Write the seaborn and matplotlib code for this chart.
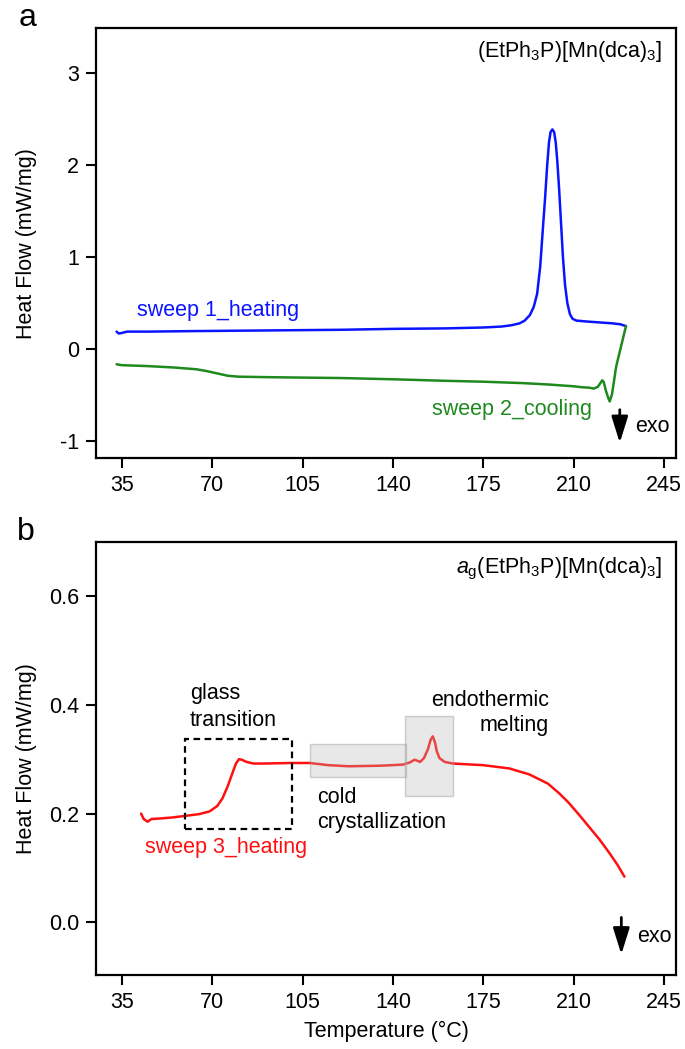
import matplotlib
matplotlib.use("Agg")
import matplotlib.pyplot as plt
from matplotlib.patches import Rectangle
import seaborn as sns
import pandas as pd

# ---- sweep 1 (heating) ----
heat1_T = [33.0, 33.8, 35.0, 37.0, 45.0, 60.0, 80.0, 100.0, 120.0, 140.0, 160.0, 175.0,
           182.0, 186.0, 189.0, 191.0, 193.0, 194.5, 195.8, 197.0, 198.0, 198.9, 199.7,
           200.4, 201.0, 201.7, 202.4, 203.0, 203.6, 204.3, 205.0, 205.8, 206.6, 207.5,
           208.5, 209.5, 211.0, 215.0, 220.0, 225.0, 228.0, 230.2]
heat1_HF = [0.19, 0.17, 0.175, 0.19, 0.19, 0.195, 0.20, 0.205, 0.21, 0.22, 0.225, 0.235,
            0.245, 0.26, 0.28, 0.31, 0.37, 0.46, 0.60, 0.90, 1.30, 1.65, 2.00,
            2.25, 2.36, 2.39, 2.36, 2.25, 2.05, 1.75, 1.40, 1.00, 0.70, 0.50,
            0.38, 0.33, 0.31, 0.30, 0.29, 0.28, 0.27, 0.25]

# ---- sweep 2 (cooling) ----
cool2_T = [230.2, 228.3, 226.4, 224.8, 223.9, 223.2, 222.4, 221.6, 221.0, 220.3, 219.3,
           217.8, 216.0, 213.0, 210.0, 200.0, 190.0, 175.0, 160.0, 142.0, 120.0, 104.0,
           90.0, 80.0, 76.0, 72.0, 68.0, 64.0, 55.0, 45.0, 35.0, 33.0]
cool2_HF = [0.25, 0.03, -0.19, -0.49, -0.57, -0.52, -0.45, -0.36, -0.34, -0.37, -0.41,
            -0.43, -0.42, -0.415, -0.405, -0.385, -0.37, -0.355, -0.345, -0.33, -0.315, -0.31,
            -0.305, -0.30, -0.29, -0.265, -0.24, -0.22, -0.20, -0.185, -0.175, -0.165]

# ---- sweep 3 (heating of the glass) ----
heat3_T = [42.5, 43.5, 45.0, 46.5, 50.0, 55.0, 60.0, 65.0, 69.0, 72.0, 74.0, 76.0, 77.9,
           79.2, 80.4, 81.5, 83.3, 86.0, 90.0, 100.0, 107.8, 115.0, 123.0, 135.0, 143.8,
           146.5, 148.4, 149.5, 150.5, 152.0, 153.5, 154.6, 155.4, 156.2, 157.0, 158.0,
           160.0, 163.2, 175.0, 185.0, 192.8, 200.0, 204.4, 208.0, 212.0, 216.0, 220.0,
           224.0, 227.0, 229.6]
heat3_HF = [0.20, 0.19, 0.185, 0.19, 0.191, 0.193, 0.196, 0.199, 0.204, 0.214, 0.228, 0.25,
            0.275, 0.292, 0.30, 0.299, 0.295, 0.292, 0.292, 0.293, 0.293, 0.289, 0.287, 0.288,
            0.290, 0.294, 0.299, 0.297, 0.295, 0.302, 0.318, 0.336, 0.342, 0.332, 0.314,
            0.302, 0.295, 0.292, 0.289, 0.283, 0.272, 0.255, 0.237, 0.22, 0.198, 0.175,
            0.152, 0.126, 0.105, 0.084]

x_ticks = [35, 70, 105, 140, 175, 210, 245]
a_yticks = [-1, 0, 1, 2, 3]
b_yticks = [0.0, 0.2, 0.4, 0.6]

# highlighted regions in panel b: (T_start, T_end, HF_low, HF_high)
glass_box = (59.4, 101.1, 0.172, 0.337)
cold_box = (107.8, 144.9, 0.268, 0.328)
melt_box = (144.8, 163.2, 0.233, 0.380)

BLUE = "#0a14ff"
GREEN = "#1e8a1e"
RED = "#ff1010"

sns.set_style("ticks")
plt.rcParams["font.family"] = ["Liberation Sans", "DejaVu Sans"]
plt.rcParams["mathtext.fontset"] = "custom"
plt.rcParams["mathtext.rm"] = "Liberation Sans"
plt.rcParams["mathtext.it"] = "Liberation Sans:italic"
plt.rcParams["axes.linewidth"] = 1.6
plt.rcParams["axes.edgecolor"] = "black"
plt.rcParams["text.color"] = "black"
plt.rcParams["axes.labelcolor"] = "black"
plt.rcParams["xtick.color"] = "black"
plt.rcParams["ytick.color"] = "black"

FS = 15.5

fig = plt.figure(figsize=(6.85, 10.49), dpi=100)
ax_a = fig.add_axes([0.140, 0.5634, 0.847, 0.4096])
ax_b = fig.add_axes([0.140, 0.0705, 0.847, 0.4131])

df1 = pd.DataFrame({"T": heat1_T, "HF": heat1_HF})
df2 = pd.DataFrame({"T": cool2_T, "HF": cool2_HF})
df3 = pd.DataFrame({"T": heat3_T, "HF": heat3_HF})

sns.lineplot(data=df1, x="T", y="HF", ax=ax_a, color=BLUE, lw=1.8, sort=False, estimator=None)
sns.lineplot(data=df2, x="T", y="HF", ax=ax_a, color=GREEN, lw=1.8, sort=False, estimator=None)
sns.lineplot(data=df3, x="T", y="HF", ax=ax_b, color=RED, lw=1.8, sort=False, estimator=None)

for ax in (ax_a, ax_b):
    ax.set_xlim(25, 249.6)
    ax.set_xticks(x_ticks)
    ax.tick_params(axis="both", direction="out", length=7.2, width=1.5,
                   labelsize=FS, pad=5, colors="black", top=False, right=False)
    for s in ax.spines.values():
        s.set_visible(True)
        s.set_linewidth(1.6)
    ax.set_ylabel("Heat Flow (mW/mg)", fontsize=FS)
    ax.yaxis.set_label_coords(-0.102, 0.5)
    ax.set_xlabel("")

# panel a
ax_a.set_ylim(-1.185, 3.49)
ax_a.set_yticks(a_yticks)
ax_a.set_yticklabels([str(v) for v in a_yticks])
ax_a.text(0.975, 0.945, r"(EtPh$_3$P)[Mn(dca)$_3$]", transform=ax_a.transAxes,
          ha="right", va="center", fontsize=FS)
ax_a.text(41, 0.42, "sweep 1_heating", color=BLUE, fontsize=FS, ha="left", va="center")
ax_a.text(155, -0.66, "sweep 2_cooling", color=GREEN, fontsize=FS, ha="left", va="center")
ax_a.annotate("", xy=(227.8, -1.02), xytext=(227.8, -0.66),
              arrowprops=dict(arrowstyle="-|>,head_width=0.25,head_length=0.8",
                              lw=2, color="black", mutation_scale=20,
                              shrinkA=0, shrinkB=0))
ax_a.text(233.8, -0.84, "exo", fontsize=FS, ha="left", va="center")

# panel b
ax_b.set_ylim(-0.097, 0.70)
ax_b.set_yticks(b_yticks)
ax_b.set_yticklabels([f"{v:.1f}" for v in b_yticks])
ax_b.set_xlabel("Temperature (°C)", fontsize=FS, labelpad=6)
ax_b.text(0.975, 0.937, r"$\mathit{a}_\mathrm{g}$(EtPh$_3$P)[Mn(dca)$_3$]",
          transform=ax_b.transAxes, ha="right", va="center", fontsize=FS)

x0, x1, y0, y1 = glass_box
ax_b.add_patch(Rectangle((x0, y0), x1 - x0, y1 - y0, fill=False, ec="black",
                         lw=1.6, ls=(0, (3, 2)), zorder=4))
for box in (cold_box, melt_box):
    x0, x1, y0, y1 = box
    ax_b.add_patch(Rectangle((x0, y0), x1 - x0, y1 - y0,
                             fc=(0.72, 0.72, 0.72, 0.32), ec=(0.6, 0.6, 0.6, 0.45),
                             lw=1.0, zorder=5))

ax_b.text(61.3, 0.420, "glass", fontsize=FS, ha="left", va="center")
ax_b.text(61.3, 0.372, "transition", fontsize=FS, ha="left", va="center")
ax_b.text(110.8, 0.229, "cold", fontsize=FS, ha="left", va="center")
ax_b.text(110.8, 0.183, "crystallization", fontsize=FS, ha="left", va="center")
ax_b.text(200.5, 0.408, "endothermic", fontsize=FS, ha="right", va="center")
ax_b.text(200.5, 0.362, "melting", fontsize=FS, ha="right", va="center")
ax_b.text(43.9, 0.138, "sweep 3_heating", color=RED, fontsize=FS, ha="left", va="center")
ax_b.annotate("", xy=(228.4, -0.059), xytext=(228.4, 0.009),
              arrowprops=dict(arrowstyle="-|>,head_width=0.25,head_length=0.8",
                              lw=2, color="black", mutation_scale=20,
                              shrinkA=0, shrinkB=0))
ax_b.text(234.6, -0.026, "exo", fontsize=FS, ha="left", va="center")

fig.text(0.040, 0.983, "a", fontsize=23, ha="center", va="center")
fig.text(0.038, 0.493, "b", fontsize=23, ha="center", va="center")

fig.savefig("out.png", dpi=100)
